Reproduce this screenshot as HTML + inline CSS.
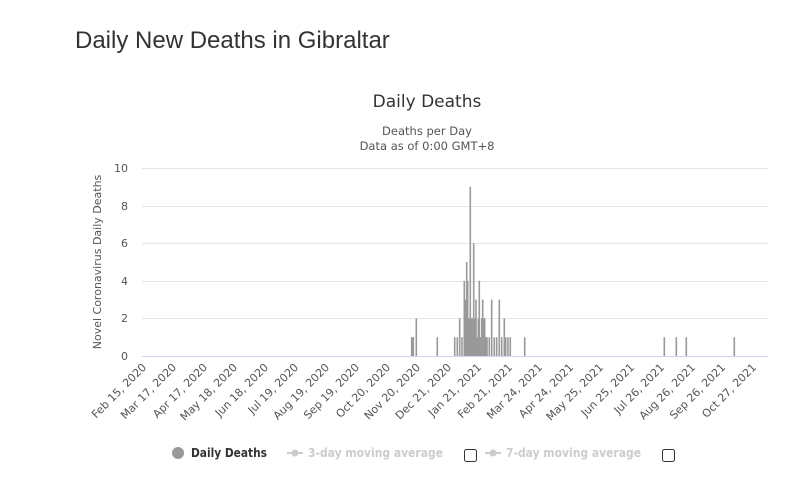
<!DOCTYPE html>
<html><head><meta charset="utf-8"><style>
body{margin:0;background:#fff;width:800px;height:481px;overflow:hidden;font-family:"Liberation Sans","DejaVu Sans",sans-serif}
svg text{font-family:"DejaVu Sans","Liberation Sans",sans-serif}
</style></head><body>
<svg width="800" height="481" xmlns="http://www.w3.org/2000/svg">
<text x="75" y="48" font-size="24" fill="#333" style="font-family:'Liberation Sans',sans-serif">Daily New Deaths in Gibraltar</text>
<text x="427" y="107" font-size="17" fill="#333" text-anchor="middle">Daily Deaths</text>
<text x="427" y="135" font-size="11.5" fill="#555" text-anchor="middle">Deaths per Day</text>
<text x="427" y="150" font-size="11.5" fill="#555" text-anchor="middle">Data as of 0:00 GMT+8</text>
<g stroke="#e6e6e6" stroke-width="1">
<line x1="142" y1="168.5" x2="768" y2="168.5"/>
<line x1="142" y1="206.5" x2="768" y2="206.5"/>
<line x1="142" y1="243.5" x2="768" y2="243.5"/>
<line x1="142" y1="281.5" x2="768" y2="281.5"/>
<line x1="142" y1="318.5" x2="768" y2="318.5"/>
</g>
<line x1="142" y1="356.5" x2="768" y2="356.5" stroke="#ccd6eb"/>
<g font-size="11" fill="#555" text-anchor="end">
<text x="128" y="172">10</text><text x="128" y="210">8</text><text x="128" y="247">6</text>
<text x="128" y="285">4</text><text x="128" y="322">2</text><text x="128" y="360">0</text>
</g>
<text transform="translate(101,262) rotate(-90)" font-size="11" fill="#555" text-anchor="middle">Novel Coronavirus Daily Deaths</text>
<g id="bars" fill="#999"></g>
<g id="xl" font-size="11" fill="#555" text-anchor="end">
<text transform="translate(147,368) rotate(-45)">Feb 15, 2020</text>
<text transform="translate(177,368) rotate(-45)">Mar 17, 2020</text>
<text transform="translate(208,368) rotate(-45)">Apr 17, 2020</text>
<text transform="translate(238,368) rotate(-45)">May 18, 2020</text>
<text transform="translate(269,368) rotate(-45)">Jun 18, 2020</text>
<text transform="translate(299,368) rotate(-45)">Jul 19, 2020</text>
<text transform="translate(330,368) rotate(-45)">Aug 19, 2020</text>
<text transform="translate(360,368) rotate(-45)">Sep 19, 2020</text>
<text transform="translate(391,368) rotate(-45)">Oct 20, 2020</text>
<text transform="translate(421,368) rotate(-45)">Nov 20, 2020</text>
<text transform="translate(452,368) rotate(-45)">Dec 21, 2020</text>
<text transform="translate(482,368) rotate(-45)">Jan 21, 2021</text>
<text transform="translate(513,368) rotate(-45)">Feb 21, 2021</text>
<text transform="translate(543,368) rotate(-45)">Mar 24, 2021</text>
<text transform="translate(574,368) rotate(-45)">Apr 24, 2021</text>
<text transform="translate(604,368) rotate(-45)">May 25, 2021</text>
<text transform="translate(635,368) rotate(-45)">Jun 25, 2021</text>
<text transform="translate(665,368) rotate(-45)">Jul 26, 2021</text>
<text transform="translate(696,368) rotate(-45)">Aug 26, 2021</text>
<text transform="translate(726,368) rotate(-45)">Sep 26, 2021</text>
<text transform="translate(757,368) rotate(-45)">Oct 27, 2021</text>
</g>
<circle cx="178" cy="453" r="6" fill="#999"/>
<text x="191" y="457" font-size="12" font-weight="bold" fill="#333" textLength="76" lengthAdjust="spacingAndGlyphs">Daily Deaths</text>
<line x1="287" y1="453" x2="303" y2="453" stroke="#ccc" stroke-width="2"/><circle cx="295" cy="453" r="3.5" fill="#ccc"/>
<text x="308" y="457" font-size="12" font-weight="bold" fill="#ccc" textLength="135" lengthAdjust="spacingAndGlyphs">3-day moving average</text>
<rect x="464.5" y="449.5" width="12" height="12" rx="2" fill="#fff" stroke="#333"/>
<line x1="485" y1="453" x2="501" y2="453" stroke="#ccc" stroke-width="2"/><circle cx="493" cy="453" r="3.5" fill="#ccc"/>
<text x="506" y="457" font-size="12" font-weight="bold" fill="#ccc" textLength="135" lengthAdjust="spacingAndGlyphs">7-day moving average</text>
<rect x="662.5" y="449.5" width="12" height="12" rx="2" fill="#fff" stroke="#333"/>
</svg>
<script>
var d=[[35,1],[40,1],[49,2],[112,1],[164,1],[172,1],[179,2],[186,1],[193,4],[197,3],[200,5],[203,4],[206,2],[208,2],[211,9],[214,2],[217,2],[221,6],[224,2],[228,3],[231,1],[235,2],[238,4],[241,1],[245,2],[248,3],[251,2],[254,2],[258,1],[261,1],[268,1],[275,3],[283,1],[290,1],[298,3],[305,1],[313,2],[317,1],[324,1],[331,1],[374,1],[793,1],[829,1],[859,1],[1003,1]];
var g=document.getElementById('bars'),s='';
d.forEach(function(b){var x=400+b[0]/3,h=b[1]*18.8;s+='<rect x="'+(x-0.8).toFixed(1)+'" y="'+(356-h).toFixed(1)+'" width="1.6" height="'+h.toFixed(1)+'"/>';});
g.innerHTML=s;
</script>
</body></html>
